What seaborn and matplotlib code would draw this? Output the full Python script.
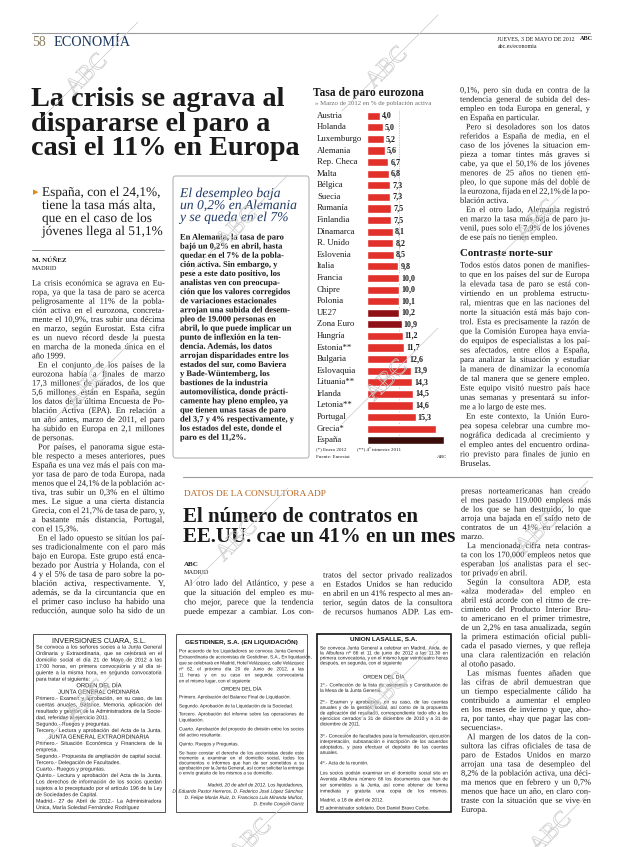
import pandas as pd
import matplotlib
matplotlib.use("Agg")
import matplotlib.pyplot as plt
import matplotlib.transforms as mtransforms
import matplotlib.patheffects as pe
from matplotlib.patches import Rectangle, FancyBboxPatch
from matplotlib.lines import Line2D
import seaborn as sns

# --- chart data: tasa de paro, marzo 2012 ---
paises = ["Austria", "Holanda", "Luxemburgo", "Alemania", "Rep. Checa", "Malta",
          "Bélgica", "Suecia", "Rumanía", "Finlandia", "Dinamarca", "R. Unido",
          "Eslovenia", "Italia", "Francia", "Chipre", "Polonia", "UE27",
          "Zona Euro", "Hungría", "Estonia**", "Bulgaria", "Eslovaquia",
          "Lituania**", "Irlanda", "Letonia**", "Portugal", "Grecia*", "España"]
tasas = [4.0, 5.0, 5.2, 5.6, 6.7, 6.8, 7.3, 7.3, 7.5, 7.5, 8.1, 8.2, 8.5, 9.8,
         10.0, 10.0, 10.1, 10.2, 10.9, 11.2, 11.7, 12.6, 13.9, 14.3, 14.5, 14.6,
         15.3, 21.7, 24.1]
medias = ["UE27", "Zona Euro"]
sin_etiqueta = ["Grecia*", "España"]

RED = "#e2302b"
DARK = "#8e0f16"
SPAIN = "#3a0d0a"
INK = "#1b1b1b"
NAVY = "#1f3a64"

W, H = 620, 847
SERIF = ["Liberation Serif", "DejaVu Serif"]
SANS_N = ["Liberation Sans Narrow", "Liberation Sans", "DejaVu Sans"]
AS_PATH = [pe.Normal()]  # draw body text as paths: no per-word pixel snapping

sns.set_style("white")
plt.rcParams["font.family"] = SERIF

fig = plt.figure(figsize=(6.2, 8.47), dpi=100)
renderer = fig.canvas.get_renderer()


def fx(x):
    return x / W


def fy(y):
    return 1 - y / H


def txt(x, y, s, **kw):
    kw.setdefault("color", INK)
    kw.setdefault("va", "center")
    return fig.text(fx(x), fy(y), s, **kw)


def ltxt(x, y, s, fs, **kw):
    # y is the middle of the line; all words share one baseline
    base = y + 0.3 * fs * 100 / 72
    return txt(x, base, s, fontsize=fs, va="baseline", path_effects=AS_PATH, **kw)


def justify(x, y, w, s, fs, **kw):
    words = s.split()
    if len(words) < 2:
        ltxt(x, y, s, fs, **kw)
        return
    objs = [ltxt(0, y, wd, fs, **kw) for wd in words]
    widths = [o.get_window_extent(renderer).width for o in objs]
    gap = (w - sum(widths)) / (len(words) - 1)
    if gap < 0.8 or gap > 8:
        for o in objs:
            o.remove()
        ltxt(x, y, s, fs, **kw)
        return
    pos = x
    for o, wd in zip(objs, widths):
        o.set_x(fx(pos))
        pos += wd + gap


def block(x, y0, dy, lines, fs, width=None, indent=6, **kw):
    for i, line in enumerate(lines):
        off = indent if line.startswith("  ") else 0
        nxt = lines[i + 1] if i + 1 < len(lines) else None
        end = (nxt is None and line.rstrip().endswith(".")) or \
              (nxt is not None and nxt.startswith("  "))
        y = y0 + i * dy
        if width is None or end:
            ltxt(x + off, y, line.strip(), fs, **kw)
        else:
            justify(x + off, y, width - off, line.strip(), fs, **kw)


def ad_block(x0, x1, rows, fs, **kw):
    # "@" centred, "~" ragged, anything else justified to the box width
    for y, line in rows:
        if line.startswith("@"):
            ltxt((x0 + x1) / 2, y, line[1:], fs + 0.4, ha="center",
                 family=SANS_N, **kw)
        elif line.startswith("~"):
            ltxt(x0, y, line[1:], fs, family=SANS_N, **kw)
        else:
            justify(x0, y, x1 - x0, line, fs, family=SANS_N, **kw)


def hline(x0, x1, y, color="#9a9a9a", lw=0.8):
    fig.add_artist(Line2D([fx(x0), fx(x1)], [fy(y), fy(y)], color=color, lw=lw,
                          transform=fig.transFigure))


def box(x0, y0, x1, y1, lw=0.7, color="#555555"):
    fig.add_artist(Rectangle((fx(x0), fy(y1)), (x1 - x0) / W, (y1 - y0) / H,
                             fill=False, lw=lw, ec=color, transform=fig.transFigure))


def watermark(xc, yc, lift=0):
    fig.add_artist(Line2D([fx(xc - 48), fx(xc + 48)], [fy(yc + 48), fy(yc - 48)],
                          color="#cdcdcd", lw=0.55, transform=fig.transFigure,
                          zorder=5))
    fig.text(fx(xc - 3 + lift), fy(yc + 5 - lift), "ABC", fontsize=17,
             rotation=45, rotation_mode="anchor", ha="center", va="center",
             color=(1, 1, 1, 0), zorder=5,
             path_effects=[pe.Stroke(linewidth=0.5, foreground="#cbcbcb"),
                           pe.Normal()])


# --- page header ---
hline(32, 590, 33)
txt(32, 43, "58", fontsize=10, color="#8c7d62")
txt(54, 43, "ECONOMÍA", fontsize=10.3, color=NAVY)
txt(497, 39, "JUEVES, 3 DE MAYO DE 2012", fontsize=4.2)
txt(580, 39, "ABC", fontsize=4.5, weight="bold")
txt(498, 47, "abc.es/economia", fontsize=4.2)

# --- main headline ---
for i, s in enumerate(["La crisis se agrava al", "dispararse el paro a",
                       "casi el 11% en Europa"]):
    txt(31, 106 + i * 24.6, s, fontsize=20.3, weight="bold", va="baseline")

txt(33, 192, "▸", fontsize=8, color="#e08a1e", family=["DejaVu Sans"])
block(42, 192, 13, ["España, con el 24,1%,", "tiene la tasa más alta,",
                    "que en el caso de los", "jóvenes llega al 51,1%"], 9.6)
hline(32, 164, 250, color="#777777", lw=0.6)
txt(32, 260, "M. NÚÑEZ", fontsize=5, weight="bold")
txt(32, 269, "MADRID", fontsize=4.5)

left_body = [
    "La crisis económica se agrava en Eu-",
    "ropa, ya que la tasa de paro se acerca",
    "peligrosamente al 11% de la pobla-",
    "ción activa en el eurozona, concreta-",
    "mente el 10,9%, tras subir una décima",
    "en marzo, según Eurostat. Esta cifra",
    "es un nuevo récord desde la puesta",
    "en marcha de la moneda única en el",
    "año 1999.",
    "  En el conjunto de los países de la",
    "eurozona había a finales de marzo",
    "17,3 millones de parados, de los que",
    "5,6 millones están en España, según",
    "los datos de la última Encuesta de Po-",
    "blación Activa (EPA). En relación a",
    "un año antes, marzo de 2011, el paro",
    "ha subido en Europa en 2,1 millones",
    "de personas.",
    "  Por países, el panorama sigue esta-",
    "ble respecto a meses anteriores, pues",
    "España es una vez más el país con ma-",
    "yor tasa de paro de toda Europa, nada",
    "menos que el 24,1% de la población ac-",
    "tiva, tras subir un 0,3% en el último",
    "mes. Le sigue a una cierta distancia",
    "Grecia, con el 21,7% de tasa de paro, y,",
    "a bastante más distancia, Portugal,",
    "con el 15,3%.",
    "  En el lado opuesto se sitúan los paí-",
    "ses tradicionalmente con el paro más",
    "bajo en Europa. Este grupo está enca-",
    "bezado por Austria y Holanda, con el",
    "4 y el 5% de tasa de paro sobre la po-",
    "blación activa, respectivamente. Y,",
    "además, se da la circuntancia que en",
    "el primer caso incluso ha habido una",
    "reducción, aunque solo ha sido de un",
]
block(32, 283, 9.1, left_body, 6.1, width=133)

# --- side box Alemania ---
fig.add_artist(FancyBboxPatch((fx(173), fy(458)), 136 / W, 282 / H,
                              boxstyle="round,pad=0,rounding_size=0.004",
                              fill=False, ec="#b5b5b5", lw=0.8,
                              transform=fig.transFigure))
block(180, 193, 12, ["El desempleo baja", "un 0,2% en Alemania",
                     "y se queda en el 7%"], 9.8, style="italic", color=NAVY)
box_body = [
    "En Alemania, la tasa de paro",
    "bajó un 0,2% en abril, hasta",
    "quedar en el 7% de la pobla-",
    "ción activa. Sin embargo, y",
    "pese a este dato positivo, los",
    "analistas ven con preocupa-",
    "ción que los valores corregidos",
    "de variaciones estacionales",
    "arrojan una subida del desem-",
    "pleo de 19.000 personas en",
    "abril, lo que puede implicar un",
    "punto de inflexión en la ten-",
    "dencia. Además, los datos",
    "arrojan disparidades entre los",
    "estados del sur, como Baviera",
    "y Bade-Wüntemberg, los",
    "bastiones de la industria",
    "automovilística, donde prácti-",
    "camente hay pleno empleo, ya",
    "que tienen unas tasas de paro",
    "del 3,7 y 4% respectivamente, y",
    "los estados del este, donde el",
    "paro es del 11,2%.",
]
block(180, 237, 9.1, box_body, 6.1, weight="bold")

# --- bar chart ---
txt(313, 93, "Tasa de paro eurozona", fontsize=8.3, weight="bold")
txt(315, 104, "» Marzo de 2012 en % de población activa", fontsize=4.9,
    color="#6d6d6d")

ax = fig.add_axes([fx(367), fy(446), 82 / W, 336 / H])
df = pd.DataFrame({"pais": paises, "tasa": tasas})
palette = {p: (SPAIN if p == "España" else DARK if p in medias else RED)
           for p in paises}
sns.barplot(data=df, y="pais", x="tasa", hue="pais", palette=palette,
            legend=False, width=0.7, saturation=1, ax=ax)
ax.set_xlim(0, 25.8)
ax.set_ylim(len(paises) - 0.5, -0.5)
ax.axvline(tasas[paises.index("UE27")], color="#9a9a9a", lw=0.5, ls=(0, (1, 1.5)),
           zorder=0)
ax.axis("off")

lab_tr = mtransforms.blended_transform_factory(fig.transFigure, ax.transData)
for i, (p, v) in enumerate(zip(paises, tasas)):
    ax.text(fx(317), i, p, transform=lab_tr, fontsize=6.3, va="center",
            color=INK)
    if p not in sin_etiqueta:
        ax.text(v + 0.7, i, f"{v:.1f}".replace(".", ","), fontsize=5.8,
                weight="bold", va="center", color=INK)

txt(316, 449, "(*) Enero 2012", fontsize=3.6)
txt(357, 449, "(**) 4º trimestre 2011", fontsize=3.6)
txt(316, 457, "Fuente: Eurostat", fontsize=3.6)
txt(437, 457, "ABC", fontsize=3.6)

# --- right column ---
right_a = [
    "0,1%, pero sin duda en contra de la",
    "tendencia general de subida del des-",
    "empleo en toda Europa en general, y",
    "en España en particular.",
    "  Pero si desoladores son los datos",
    "referidos a España de media, en el",
    "caso de los jóvenes la situacion em-",
    "pieza a tomar tintes más graves si",
    "cabe, ya que el 50,1% de los jóvenes",
    "menores de 25 años no tienen em-",
    "pleo, lo que supone más del doble de",
    "la eurozona, fijada en el 22,1% de la po-",
    "blación activa.",
    "  En el otro lado, Alemania registró",
    "en marzo la tasa más baja de paro ju-",
    "venil, pues solo el 7,9% de los jóvenes",
    "de ese país no tienen empleo.",
]
block(460, 90, 9.2, right_a, 6.0, width=130)
txt(460, 253, "Contraste norte-sur", fontsize=7.8, weight="bold")
right_b = [
    "Todos estos datos ponen de manifies-",
    "to que en los países del sur de Europa",
    "la elevada tasa de paro se está con-",
    "virtiendo en un problema estructu-",
    "ral, mientras que en las naciones del",
    "norte la situación está más bajo con-",
    "trol. Esta es precisamente la razón de",
    "que la Comisión Europea haya envia-",
    "do equipos de especialistas a los paí-",
    "ses afectados, entre ellos a España,",
    "para analizar la situación y estudiar",
    "la manera de dinamizar la economía",
    "de tal manera que se genere empleo.",
    "Este equipo visitó nuestro país hace",
    "unas semanas y presentará su infor-",
    "me a lo largo de este mes.",
    "  En este contexto, la Unión Euro-",
    "pea sopesa celebrar una cumbre mo-",
    "nográfica dedicada al crecimiento y",
    "el empleo antes del encuentro ordina-",
    "rio previsto para finales de junio en",
    "Bruselas.",
]
block(460, 265, 9.45, right_b, 6.0, width=130)

# --- lower article ---
hline(183, 592, 477)
txt(184, 494, "DATOS DE LA CONSULTORA ADP", fontsize=6.7, color="#b3641e")
txt(183, 522, "El número de contratos en", fontsize=15, weight="bold",
    va="baseline")
txt(183, 541.5, "EE.UU. cae un 41% en un mes", fontsize=15, weight="bold",
    va="baseline")
txt(184, 564, "ABC", fontsize=5, weight="bold")
txt(184, 573, "MADRID", fontsize=4.5)
block(184, 583, 9.5, ["Al otro lado del Atlántico, y pese a",
                      "que la situación del empleo es mu-",
                      "cho mejor, parece que la tendencia",
                      "puede empezar a cambiar. Los con-"], 6.0, width=130)
block(323, 575, 9.2, ["tratos del sector privado realizados",
                      "en Estados Unidos se han reducido",
                      "en abril en un 41% respecto al mes an-",
                      "terior, según datos de la consultora",
                      "de recursos humanos ADP. Las em-"], 6.0, width=130)
col3 = [
    "presas norteamericanas han creado",
    "el mes pasado 119.000 empleos más",
    "de los que se han destruido, lo que",
    "arroja una bajada en el saldo neto de",
    "contratos de un 41% en relación a",
    "marzo.",
    "  La mencionada cifra neta contras-",
    "ta con los 170.000 empleos netos que",
    "esperaban los analistas para el sec-",
    "tor privado en abril.",
    "  Según la consultora ADP, esta",
    "«alza moderada» del empleo en",
    "abril está acorde con el ritmo de cre-",
    "cimiento del Producto Interior Bru-",
    "to americano en el primer trimestre,",
    "de un 2,2% en tasa anualizada, según",
    "la primera estimación oficial publi-",
    "cada el pasado viernes, y que refleja",
    "una clara ralentización en relación",
    "al otoño pasado.",
    "  Las mismas fuentes añaden que",
    "las cifras de abril demuestran que",
    "un tiempo especialmente cálido ha",
    "contribuido a aumentar el empleo",
    "en los meses de invierno y que, aho-",
    "ra, por tanto, «hay que pagar las con-",
    "secuencias».",
    "  Al margen de los datos de la con-",
    "sultora las cifras oficiales de tasa de",
    "paro de Estados Unidos en marzo",
    "arrojan una tasa de desempleo del",
    "8,2% de la población activa, una déci-",
    "ma menos que en febrero y un 0,7%",
    "menos que hace un año, en claro con-",
    "traste con la situación que se vive en",
    "Europa.",
]
block(461, 491, 9.1, col3, 6.0, width=130)

# --- legal notices ---
box(33, 634, 165, 812)
box(176, 634, 307, 812)
box(317, 634, 451, 812, lw=1.2, color="#111111")

txt(99, 641, "INVERSIONES CUARA, S.L.", fontsize=5.2, ha="center", family=SANS_N)
ad1 = [
    "Se convoca a los señores socios a la Junta General",
    "Ordinaria y Extraordinaria, que se celebrará en el",
    "domicilio social el día 21 de Mayo de 2012 a las",
    "17:00 horas, en primera convocatoria y al día si-",
    "guiente a la misma hora, en segunda convocatoria",
    "~para tratar el siguiente:",
    "@ORDEN DEL DÍA",
    "@JUNTA GENERAL ORDINARIA",
    "Primero.- Examen y aprobación, en su caso, de las",
    "cuentas anuales, Balance, Memoria, aplicación del",
    "resultado y gestión de la Administradora de la Socie-",
    "~dad, referidas al ejercicio 2011.",
    "~Segundo.- Ruegos y preguntas.",
    "Tercero.- Lectura y aprobación del Acta de la Junta.",
    "@JUNTA GENERAL EXTRAORDINARIA",
    "Primero.- Situación Económica y Financiera de la",
    "~empresa.",
    "Segundo.- Propuesta de ampliación de capital social.",
    "~Tercero.- Delegación de Facultades.",
    "~Cuarto.- Ruegos y preguntas.",
    "Quinto.- Lectura y aprobación del Acta de la Junta.",
    "Los derechos de información de los socios quedan",
    "sujetos a lo preceptuado por el artículo 196 de la Ley",
    "~de Sociedades de Capital.",
    "Madrid.- 27 de Abril de 2012.- La Administradora",
    "~Única, María Soledad Fernández Rodríguez",
]
ad_block(36, 162, [(647 + i * 6.42, s) for i, s in enumerate(ad1)], 3.8)

txt(241, 642, "GESTIDINER, S.A. (EN LIQUIDACIÓN)", fontsize=4.6, weight="bold",
    ha="center", family=SANS_N)
ad2 = [
    (651, "Por acuerdo de los Liquidadores se convoca Junta General"),
    (657, "Extraordinaria de accionistas de Gestidiner, S.A., En liquidación,"),
    (663, "que se celebrará en Madrid, Hotel Velázquez, calle Velázquez"),
    (669, "nº 62, el próximo día 20 de Junio de 2012, a las"),
    (675, "11 horas y en su caso en segunda convocatoria"),
    (681, "~en el mismo lugar, con el siguiente"),
    (689, "@ORDEN DEL DÍA"),
    (697, "~Primero. Aprobación del Balance Final de Liquidación."),
    (706, "~Segundo. Aprobación de la Liquidación de la Sociedad."),
    (714, "Tercero. Aprobación del informe sobre las operaciones de"),
    (720, "~Liquidación."),
    (729, "Cuarto. Aprobación del proyecto de división entre los socios"),
    (735, "~del activo resultante."),
    (744, "~Quinto. Ruegos y Preguntas."),
    (753, "Se hace constar el derecho de los accionistas desde este"),
    (758, "momento a examinar en el domicilio social, todos los"),
    (763, "documentos e informes que han de ser sometidos a su"),
    (768, "aprobación por la Junta General, así como solicitar la entrega"),
    (773, "~o envío gratuito de los mismos a su domicilio."),
]
ad_block(179, 304, ad2, 3.35)
firma2 = ["Madrid, 20 de abril de 2012. Los liquidadores,",
          "D. Eduardo Pastor Herreros, D. Federico José López Sánchez",
          "D. Felipe Morán Ruiz, D. Francisco Luis Miranda Muñoz,",
          "D. Emilio Congeli Gorriz"]
for i, line in enumerate(firma2):
    ltxt(304, 785 + i * 6.3, line, 3.4, ha="right", style="italic",
         family=SANS_N)

txt(384, 639, "UNION LASALLE, S.A.", fontsize=4.6, weight="bold", ha="center",
    family=SANS_N)
ad3 = [
    (648, "Se convoca Junta General a celebrar en Madrid, Avda. de"),
    (653, "la Albufera nº 66 el 11 de junio de 2012 a las 11.30 en"),
    (658, "primera convocatoria, y en el mismo lugar veinticuatro horas"),
    (663, "~después, en segunda, con el siguiente"),
    (677, "@ORDEN DEL DÍA"),
    (685, "1º.- Confección de la lista de asistentes y Constitución de"),
    (690.5, "~la Mesa de la Junta General."),
    (702, "2º.- Examen y aprobación, en su caso, de las cuentas"),
    (707.5, "anuales y de la gestión social, así como de la propuesta"),
    (713, "de aplicación del resultado, correspondiente todo ello a los"),
    (718.5, "ejercicios cerrados a 31 de diciembre de 2010 y a 31 de"),
    (724, "~diciembre de 2011."),
    (736, "3º.- Concesión de facultades para la formalización, ejecución,"),
    (741.5, "interpretación, subsanación e inscripción de los acuerdos"),
    (747, "adoptados, y para efectuar el depósito de las cuentas"),
    (752.5, "~anuales."),
    (763, "~4º.- Acta de la reunión."),
    (773, "Los socios podrán examinar en el domicilio social sito en"),
    (779, "Avenida Albufera número 66 los documentos que han de"),
    (785, "ser sometidos a la Junta, así como obtener de forma"),
    (791, "inmediata y gratuita una copia de los mismos."),
    (800, "~Madrid, a 18 de abril de 2012."),
    (808, "~El administrador solidario. Don Daniel Bravo Corbo."),
]
ad_block(320, 448, ad3, 3.45)

# --- watermark ---
for xc in (90, 240, 390, 540):
    base = {90: 70, 240: 223, 390: 63, 540: 216}[xc]
    for k in range(3):
        yc = base + k * 313
        watermark(xc, yc, lift=14 if yc > 820 else 0)

fig.savefig("out.png", dpi=100)
